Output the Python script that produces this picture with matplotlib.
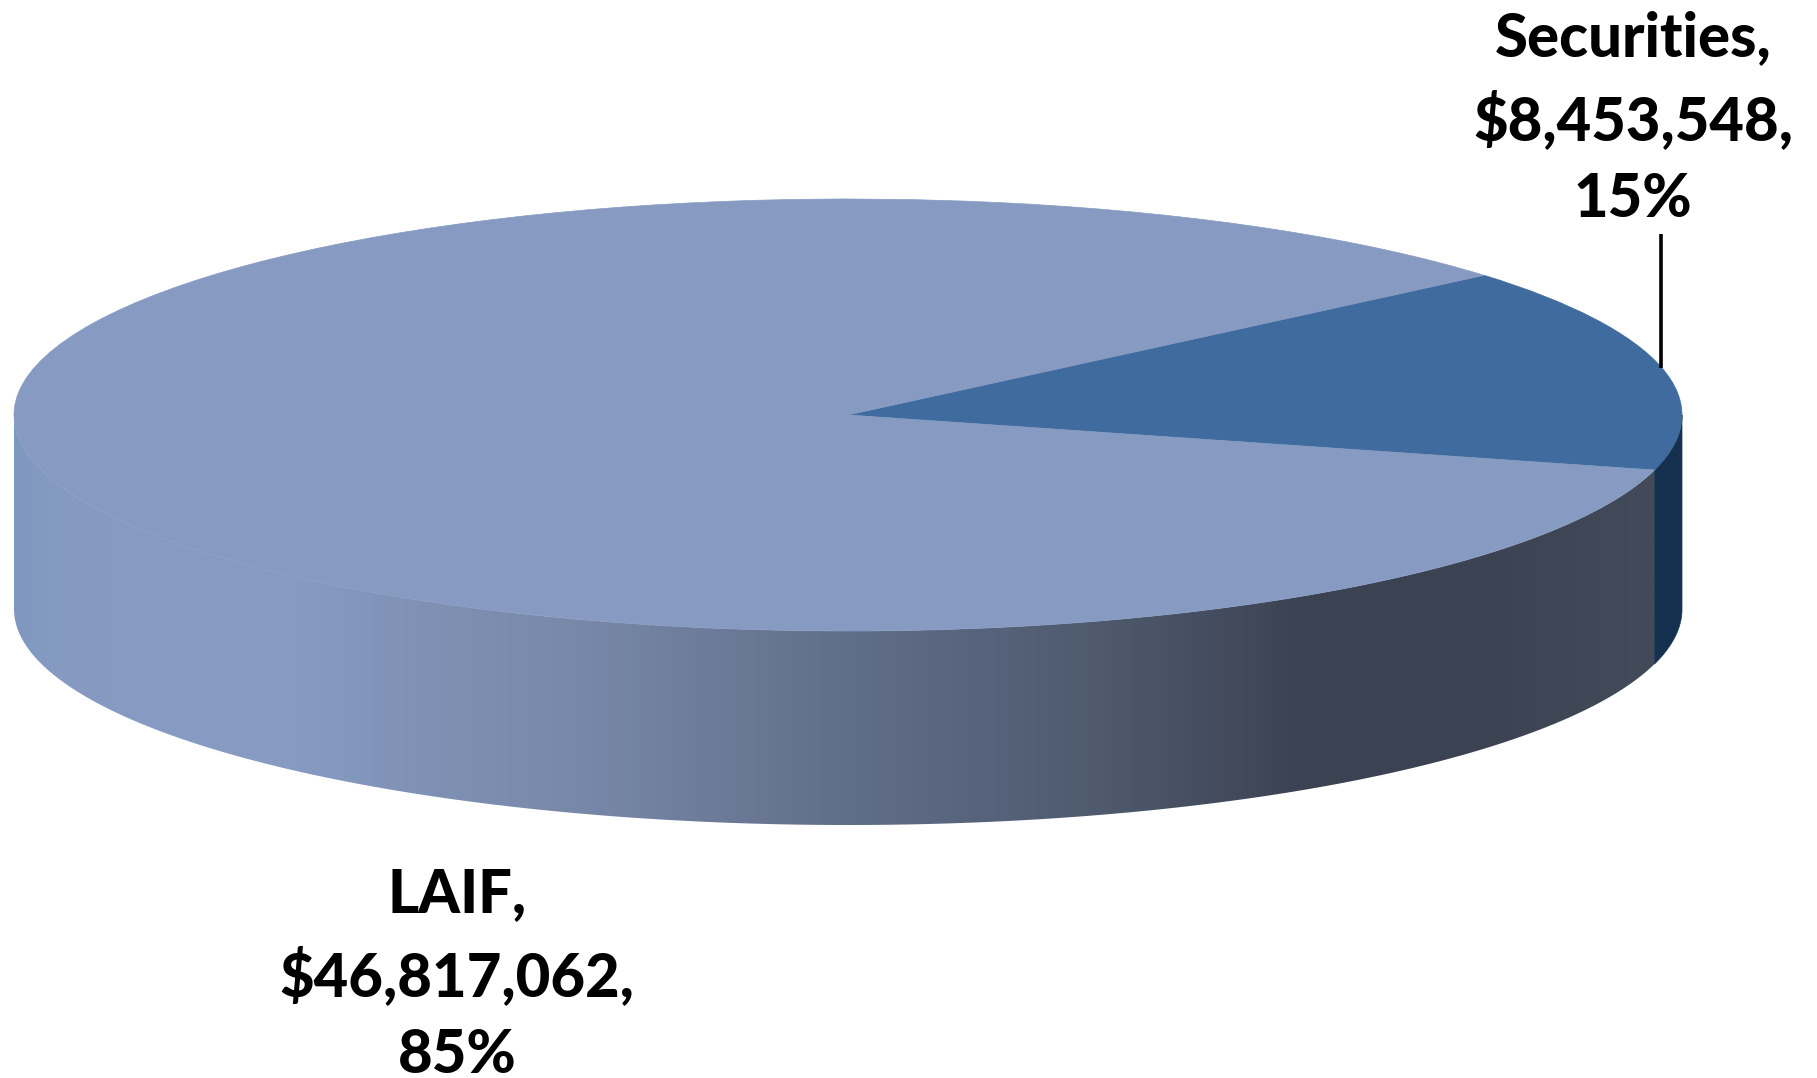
import numpy as np
import matplotlib
matplotlib.use("Agg")
import matplotlib.pyplot as plt
from matplotlib.colors import LinearSegmentedColormap
from matplotlib.patches import Polygon
from matplotlib.transforms import Affine2D

names = ["Securities", "LAIF"]
values = [8453548, 46817062]
shares = [15, 85]
top_colors = ["#3f6b9f", "#879bc2"]

W, H = 1817, 1078
# ellipse of the pie, in image pixels
cx, cy, a, b = 848, 415, 834, 216
depth = 194
start_angle = 40.3

plt.rcParams["font.family"] = ["Lato", "DejaVu Sans"]


def side_points(t0, t1):
    t = np.radians(np.linspace(t0, t1, 300))
    x = cx + a * np.cos(t)
    y = cy - b * np.sin(t)
    upper = np.column_stack([x, y])
    lower = np.column_stack([x, y + depth])
    return np.vstack([upper, lower[::-1]])


fig = plt.figure(figsize=(W / 100, H / 100), dpi=100)
ax = fig.add_axes([0, 0, 1, 1])

wedges, _ = ax.pie(values, colors=top_colors, startangle=start_angle,
                   counterclock=False, frame=False)
squash = Affine2D().scale(a, -b).translate(cx, cy) + ax.transData
for w, c in zip(wedges, top_colors):
    w.set_transform(squash)
    w.set_zorder(3)
    w.set_edgecolor(c)
    w.set_linewidth(0.5)

split = wedges[0].theta1  # front edge where the two slices meet

# rim of the big slice, shaded from left to right
stops = [(13, "#7f98c0"), (40, "#859ac1"), (100, "#879bc2"), (300, "#879bc2"), (400, "#8092b6"),
         (580, "#7888a8"), (870, "#5f6c87"), (1100, "#4f5a6e"), (1310, "#3b4252"),
         (1500, "#3c4352"), (1652, "#434a59"), (1681, "#434a59")]
pos = [(s[0] - 13) / (1681 - 13) for s in stops]
cmap = LinearSegmentedColormap.from_list("rim", list(zip(pos, [s[1] for s in stops])))
img = ax.imshow(np.linspace(0, 1, 800)[None, :], cmap=cmap, aspect="auto",
                extent=(13, 1681, cy + b + depth, cy), zorder=1)
rim = Polygon(side_points(-180, split), closed=True, transform=ax.transData,
              facecolor="none", edgecolor="none")
ax.add_patch(rim)
img.set_clip_path(rim)

ax.add_patch(Polygon(side_points(split, 0), closed=True, facecolor="#16304f",
                     edgecolor="#16304f", lw=0.5, zorder=2))

ax.set_xlim(0, W)
ax.set_ylim(H, 0)
ax.axis("off")

for i, (tx, ty) in enumerate([(1633, 217), (457, 1073)]):
    ax.text(tx, ty, f"{names[i]},\n${values[i]:,},\n{shares[i]}%", ha="center", va="baseline",
            fontsize=43, fontweight=900, color="black", linespacing=1.465, zorder=5)

# leader line for the small slice
ax.plot([1661, 1661], [234, 368], color="black", lw=2.6, solid_capstyle="butt", zorder=5)

fig.savefig("out.png", dpi=100, facecolor="white")
